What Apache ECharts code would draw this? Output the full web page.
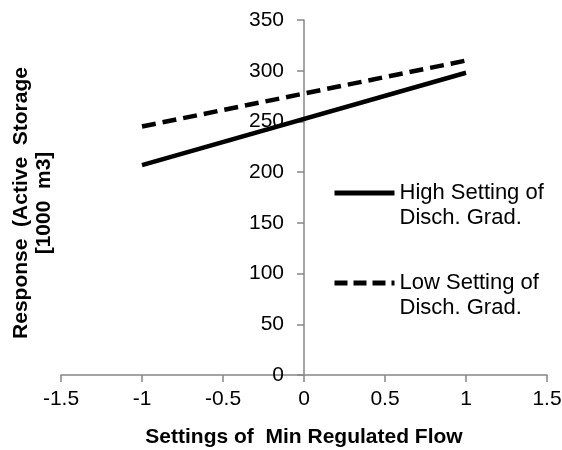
<!DOCTYPE html>
<html>
<head>
<meta charset="utf-8">
<script src="https://cdn.jsdelivr.net/npm/echarts@6/dist/echarts.min.js"></script>
<style>
  html, body { margin: 0; padding: 0; background: #fff; }
  #chart { width: 562px; height: 450px; }
</style>
</head>
<body>
<div id="chart"></div>
<script>
// Settings of the minimum regulated flow (coded levels)
const flowSettings = [-1, 1];
// Active storage response [1000 m3] for each discharge-gradient setting
const highGradResponse = [207, 298];
const lowGradResponse = [245, 310];
const seriesNames = ['High Setting of\nDisch. Grad.', 'Low Setting of\nDisch. Grad.'];
const xTicks = { min: -1.5, max: 1.5, step: 0.5 };
const yTicks = { min: 0, max: 350, step: 50 };

const FONT = '"Liberation Sans", Arial, sans-serif';
const AXIS_GRAY = '#878787';
const LEGEND_LINE_H = 25;
const GRID = { left: 61, right: 15, top: 20, bottom: 75, outerBoundsMode: 'none' };
const PLOT_W = 562 - GRID.left - GRID.right;
// horizontal pixel of x = 0, where the vertical axis crosses
const Y_AXIS_SHIFT = PLOT_W * (0 - xTicks.min) / (xTicks.max - xTicks.min);

function pairs(xs, ys) { return xs.map((x, i) => [x, ys[i]]); }

function legendFor(name, centerY, dash) {
  return {
    orient: 'vertical',
    left: 332,
    top: centerY - 1.5 * LEGEND_LINE_H,
    padding: 0,
    itemWidth: 60,
    itemHeight: 14,
    selectedMode: false,
    data: [name],
    itemStyle: { color: 'transparent', borderColor: 'transparent', borderWidth: 0 },
    lineStyle: { color: '#000', width: 5, type: dash },
    // a blank first line keeps the key line level with the first text line
    formatter: n => '\u200b\n' + n,
    textStyle: {
      fontFamily: FONT,
      fontSize: 22,
      color: '#000',
      lineHeight: LEGEND_LINE_H
    }
  };
}

const chart = echarts.init(document.getElementById('chart'), null, { renderer: 'canvas' });

chart.setOption({
  animation: false,
  backgroundColor: '#fff',
  grid: GRID,
  legend: [
    legendFor(seriesNames[0], 193, 'solid'),
    legendFor(seriesNames[1], 283, [13, 6])
  ],
  xAxis: {
    type: 'value',
    min: xTicks.min, max: xTicks.max, interval: xTicks.step,
    splitLine: { show: false },
    axisLine: { show: true, lineStyle: { color: AXIS_GRAY, width: 1.5 } },
    axisTick: { show: true, length: 7, lineStyle: { color: AXIS_GRAY, width: 1.5 } },
    axisLabel: { fontFamily: FONT, fontSize: 21, color: '#000', margin: 14 },
    name: 'Settings of  Min Regulated Flow',
    nameLocation: 'middle',
    nameGap: 52,
    nameTextStyle: { fontFamily: FONT, fontSize: 21, fontWeight: 'bold', color: '#000' }
  },
  yAxis: {
    type: 'value',
    min: yTicks.min, max: yTicks.max, interval: yTicks.step,
    offset: -Y_AXIS_SHIFT,
    splitLine: { show: false },
    axisLine: { show: true, onZero: false, lineStyle: { color: AXIS_GRAY, width: 1.5 } },
    axisTick: { show: true, length: 7, lineStyle: { color: AXIS_GRAY, width: 1.5 } },
    axisLabel: { fontFamily: FONT, fontSize: 21, color: '#000', margin: 20 }
  },
  graphic: [{
    type: 'text',
    x: 33,
    y: 203,
    rotation: Math.PI / 2,
    style: {
      text: 'Response  (Active  Storage\n[1000  m3]',
      font: 'bold 21px ' + FONT,
      fill: '#000',
      align: 'center',
      verticalAlign: 'middle',
      lineHeight: 23
    }
  }],
  series: [
    {
      name: seriesNames[0],
      type: 'line',
      data: pairs(flowSettings, highGradResponse),
      symbol: 'none',
      lineStyle: { color: '#000', width: 4.5, type: 'solid' },
      itemStyle: { color: '#000' }
    },
    {
      name: seriesNames[1],
      type: 'line',
      data: pairs(flowSettings, lowGradResponse),
      symbol: 'none',
      lineStyle: { color: '#000', width: 4.5, type: [14, 7] },
      itemStyle: { color: '#000' }
    }
  ]
});
</script>
</body>
</html>
